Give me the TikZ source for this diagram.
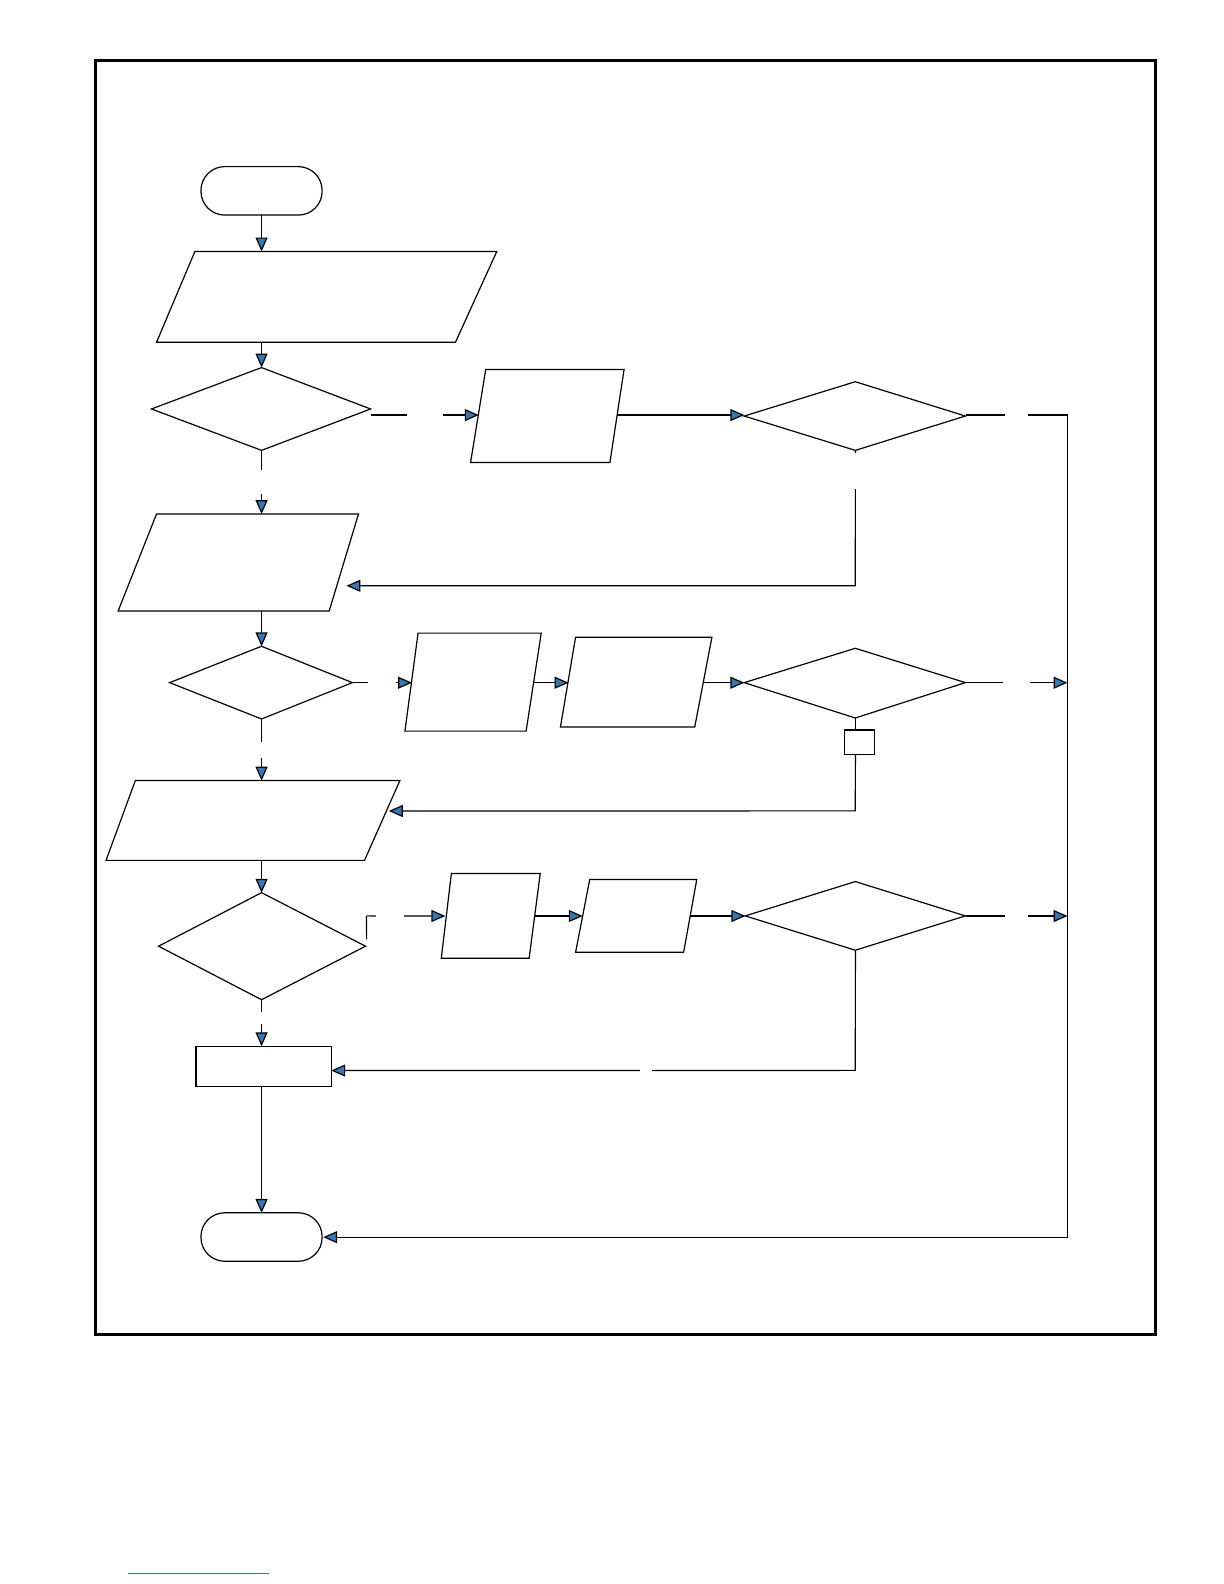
\documentclass[tikz,border=0pt]{standalone}
\usetikzlibrary{arrows.meta}
\definecolor{tipblue}{RGB}{52,120,180}
\tikzset{
  flow/.style={line width=0.6pt},
  tip/.style={-{Triangle[length=7pt,width=6pt,fill=tipblue]}},
  lblgap/.style={fill=white,inner sep=0pt,minimum width=#1,minimum height=5pt},
}
\begin{document}
\begin{tikzpicture}[x=0.5bp,y=-0.5bp,flow]
\useasboundingbox (0,0) rectangle (1224,1584);
\begin{scope}[scale=1.0098]
% frame
\draw[line width=1.5pt] (95,60) rectangle (1144,1322);

% terminators
\draw[rounded corners=11.9bp] (199,165) rectangle (319,213);
\coordinate (startB) at (259,213);
\draw[rounded corners=11.9bp] (199,1201) rectangle (319,1249);
\coordinate (endT) at (259,1201);
\coordinate (endR) at (320,1225);

% parallelograms
\draw (193,249) -- (492,249) -- (451,339) -- (155,339) -- cycle;
\coordinate (inT) at (259,249); \coordinate (inB) at (259,339);
\draw (481,366) -- (618,366) -- (604,458) -- (466,458) -- cycle;
\coordinate (pAL) at (474,411); \coordinate (pAR) at (611,411);
\draw (155,509) -- (355,509) -- (326,605) -- (117,605) -- cycle;
\coordinate (pBT) at (259,509); \coordinate (pBB) at (259,605); \coordinate (pBR) at (343,580);
\draw (414,627) -- (536,627) -- (521,724) -- (401,724) -- cycle;
\coordinate (pCL) at (408,676); \coordinate (pCR) at (529,676);
\draw (570,631) -- (705,631) -- (688,720) -- (555,720) -- cycle;
\coordinate (pDL) at (563,676); \coordinate (pDR) at (697,676);
\draw (134,773) -- (396,773) -- (361,852) -- (105,852) -- cycle;
\coordinate (pET) at (259,773); \coordinate (pEB) at (259,852); \coordinate (pER) at (385,803);
\draw (447,865) -- (535,865) -- (524,949) -- (437,949) -- cycle;
\coordinate (pFL) at (441,907); \coordinate (pFR) at (529,907);
\draw (584,871) -- (690,871) -- (677,943) -- (570,943) -- cycle;
\coordinate (pGL) at (577,907); \coordinate (pGR) at (683,907);

% decisions
\draw (150,405) -- (259,364) -- (367,405) -- (259,446) -- cycle;
\coordinate (dAT) at (259,364); \coordinate (dAB) at (259,446); \coordinate (dAR) at (367,411);
\draw (737,412) -- (847,378) -- (956,412) -- (847,446) -- cycle;
\coordinate (dBL) at (737,411); \coordinate (dBB) at (847,446); \coordinate (dBR) at (956,411);
\draw (168,676) -- (259,640) -- (349,676) -- (259,712) -- cycle;
\coordinate (dCT) at (259,640); \coordinate (dCB) at (259,712); \coordinate (dCR) at (349,676);
\draw (737,676) -- (847,642) -- (956,676) -- (847,711) -- cycle;
\coordinate (dDL) at (737,676); \coordinate (dDB) at (847,711); \coordinate (dDR) at (956,676);
\draw (157,937) -- (259,884) -- (362,937) -- (259,990) -- cycle;
\coordinate (dET) at (259,884); \coordinate (dEB) at (259,990); \coordinate (dER) at (363,930);
\draw (738,907) -- (847,873) -- (956,907) -- (847,941) -- cycle;
\coordinate (dFL) at (738,907); \coordinate (dFB) at (847,941); \coordinate (dFR) at (956,907);

% process box and connector box
\draw (194,1036) rectangle (328,1076);
\coordinate (boxT) at (259,1036); \coordinate (boxB) at (259,1076); \coordinate (boxR) at (328,1060);
\draw (836,723) rectangle (866,747);
\coordinate (smT) at (847,723); \coordinate (smB) at (847,747);

% rail on the right
\coordinate (railA) at (1057,411);
\coordinate (railB) at (1057,676);
\coordinate (railC) at (1057,907);
\coordinate (railD) at (1057,1225);

% connectors
\draw[tip] (startB) -- (inT);
\draw[tip] (inB) -- (dAT);
\draw[tip] (dAR) -- node[lblgap=18pt]{} (pAL);
\draw[tip] (pAR) -- (dBL);
\draw (dBR) -- node[lblgap=12pt]{} (railA) -- (railD);
\draw[tip] (railD) -- (endR);
\draw[tip] (dBB) -- node[lblgap=10pt,pos=0.15,minimum width=5pt,minimum height=18pt]{} (847,580) -- (pBR);
\draw[tip] (dAB) -- node[lblgap=5pt,minimum height=12pt]{} (pBT);
\draw[tip] (pBB) -- (dCT);
\draw[tip] (dCR) -- node[lblgap=14pt]{} (pCL);
\draw[tip] (pCR) -- (pDL);
\draw[tip] (pDR) -- (dDL);
\draw[tip] (dDR) -- node[lblgap=14pt]{} (railB);
\draw (dDB) -- (smT);
\draw[tip] (smB) -- (847,803) -- (pER);
\draw[tip] (dCB) -- node[lblgap=5pt,minimum height=8pt]{} (pET);
\draw[tip] (pEB) -- (dET);
\draw (dER) -- (363,907);
\draw[tip] (363,907) -- node[lblgap=14pt,pos=0.3]{} (pFL);
\draw[tip] (pFR) -- (pGL);
\draw[tip] (pGR) -- (dFL);
\draw[tip] (dFR) -- node[lblgap=12pt]{} (railC);
\draw[tip] (dFB) -- (847,1060) -- node[lblgap=6pt,pos=0.4]{} (boxR);
\draw[tip] (dEB) -- node[lblgap=5pt,pos=0.4,minimum height=6pt]{} (boxT);
\draw[tip] (boxB) -- (endT);

% link underline
\draw[tipblue,line width=0.5pt] (127,1558) -- (266,1558);
\end{scope}
\end{tikzpicture}
\end{document}
